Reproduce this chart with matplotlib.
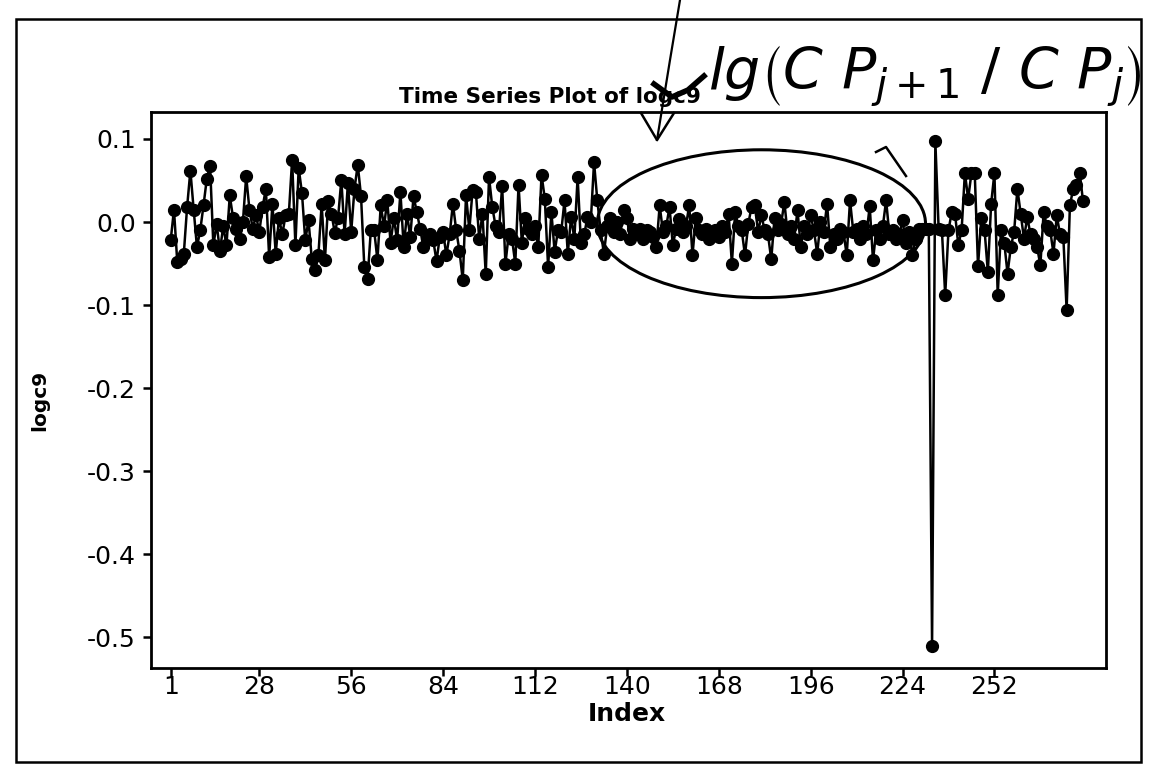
import numpy as np
import matplotlib
matplotlib.use("Agg")
import matplotlib.pyplot as plt
from matplotlib.patches import Ellipse, Rectangle
from matplotlib.lines import Line2D

plt.rcParams['axes.unicode_minus'] = False
plt.rcParams['font.family'] = ['DejaVu Sans']
plt.rcParams['mathtext.fontset'] = 'dejavusans'

# logc9 values, in index order (1..279)
seg_1_45 = [-0.022, 0.015, -0.048, -0.045, -0.038, 0.018, 0.062, 0.015, -0.030, -0.010,
            0.020, 0.052, 0.068, -0.028, -0.002, -0.035, -0.005, -0.028, 0.032, 0.005,
            -0.008, -0.020, 0.000, 0.055, 0.015, -0.008, 0.008, -0.012, 0.018, 0.040,
            -0.042, 0.022, -0.038, 0.005, -0.015, 0.008, 0.010, 0.075, -0.028, 0.065,
            0.035, -0.022, 0.002, -0.045, -0.058]
seg_46_93 = [-0.040, 0.022, -0.046, 0.025, 0.010, -0.013, 0.005, 0.051, -0.015, 0.047,
             -0.012, 0.040, 0.069, 0.031, -0.054, -0.068, -0.009, -0.010, -0.046, 0.020,
             -0.005, 0.026, -0.025, 0.005, -0.022, 0.036, -0.030, 0.010, -0.018, 0.031,
             0.012, -0.008, -0.030, -0.020, -0.015, -0.022, -0.047, -0.018, -0.012, -0.040,
             -0.015, 0.022, -0.010, -0.035, -0.070, 0.033, -0.010, 0.039]
seg_94_142 = [0.036, -0.020, 0.010, -0.063, 0.054, 0.018, -0.005, -0.012, 0.043, -0.050,
              -0.015, -0.020, -0.050, 0.045, -0.025, 0.005, -0.008, -0.015, -0.005, -0.030,
              0.057, 0.028, -0.054, 0.012, -0.036, -0.010, -0.012, 0.026, -0.038, 0.006,
              -0.020, 0.054, -0.025, -0.015, 0.006, 0.000, 0.072, 0.026, -0.010, -0.038,
              -0.005, 0.005, -0.012, 0.000, -0.015, 0.015, 0.005, -0.020, -0.008]
seg_143_191 = [-0.015, -0.008, -0.020, -0.010, -0.012, -0.018, -0.030, 0.020, -0.012, -0.005,
               0.018, -0.028, -0.008, 0.004, -0.012, -0.005, 0.020, -0.040, 0.005, -0.010,
               -0.015, -0.008, -0.020, -0.015, -0.010, -0.018, -0.005, -0.012, 0.010, -0.050,
               0.012, -0.005, -0.010, -0.040, -0.002, 0.018, 0.020, -0.012, 0.008, -0.010,
               -0.015, -0.045, 0.005, -0.010, -0.002, 0.024, -0.015, -0.005, -0.020]
seg_192_279 = [0.014, -0.030, -0.005, -0.015, 0.008, -0.010, -0.038, 0.000, -0.012, 0.022,
               -0.030, -0.015, -0.020, -0.008, -0.012, -0.040, 0.026, -0.012, -0.008, -0.020,
               -0.005, -0.015, 0.019, -0.046, -0.010, -0.020, -0.005, 0.026, -0.015, -0.010,
               -0.020, -0.015, 0.002, -0.025, -0.012, -0.040, -0.020, -0.008, -0.008, -0.008,
               -0.008, -0.510, 0.097, -0.008, -0.010, -0.088, -0.010, 0.012, 0.010, -0.028,
               -0.010, 0.059, 0.028, 0.059, 0.059, -0.053, 0.005, -0.010, -0.060, 0.022,
               0.059, -0.088, -0.010, -0.025, -0.062, -0.030, -0.012, 0.040, 0.010, -0.020,
               0.006, -0.015, -0.020, -0.030, -0.052, 0.012, -0.005, -0.010, -0.038, 0.008,
               -0.015, -0.018, -0.106, 0.020, 0.040, 0.045, 0.059, 0.025]

logc9 = np.array(seg_1_45 + seg_46_93 + seg_94_142 + seg_143_191 + seg_192_279)
index = np.arange(1, len(logc9) + 1)

x_ticks = [1, 28, 56, 84, 112, 140, 168, 196, 224, 252]
y_ticks = [0.1, 0.0, -0.1, -0.2, -0.3, -0.4, -0.5]

W, H = 1157, 776
fig = plt.figure(figsize=(W / 100, H / 100), dpi=100)
ax = fig.add_axes([151 / W, 1 - 668 / H, (1106 - 151) / W, (668 - 112) / H])

ax.plot(index, logc9, color='black', lw=1.8, marker='o', ms=8.5,
        mfc='black', mec='black', zorder=3)

ax.set_xlim(-5, 286)
ax.set_ylim(-0.537, 0.1325)
ax.set_xticks(x_ticks)
ax.set_xticklabels([str(t) for t in x_ticks])
ax.set_yticks(y_ticks)
ax.set_yticklabels([f"{t:.1f}" for t in y_ticks])
ax.tick_params(direction='out', length=6, width=1.8, labelsize=18, colors='black')
ax.tick_params(axis='x', pad=-1)
ax.tick_params(axis='y', pad=5)
for s in ax.spines.values():
    s.set_linewidth(2)

ax.set_xlabel('Index', fontsize=18, fontweight='bold', va='center')
ax.xaxis.set_label_coords(0.498, -0.083)
ax.set_ylabel('logc9', fontsize=14.5, fontweight='bold', va='center')
ax.yaxis.set_label_coords(-0.116, 0.482)

fig.text(550 / W, 1 - 97 / H, 'Time Series Plot of logc9', ha='center', va='center',
         fontsize=15.5, fontweight='bold')

# outer graph frame
fig.patches.append(Rectangle((16 / W, 1 - 762 / H), (1141 - 16) / W, (762 - 19) / H,
                             transform=fig.transFigure, fill=False, lw=1.8, ec='black'))

# hand-drawn notes
ax.add_patch(Ellipse((181, -0.002), 100, 0.178, fill=False, lw=2.2, ec='black', zorder=4))
fig.add_artist(Line2D([876 / W, 886 / W, 906 / W], [1 - 152 / H, 1 - 147 / H, 1 - 176 / H],
                      color='black', lw=1.8))
fig.add_artist(Line2D([680 / W, 670 / W, 657 / W], [1.0, 1 - 60 / H, 1 - 140 / H],
                      color='black', lw=1.6))
fig.add_artist(Line2D([641 / W, 657 / W, 674 / W], [1 - 113 / H, 1 - 140 / H, 1 - 113 / H],
                      color='black', lw=1.8))
fig.add_artist(Line2D([654 / W, 672 / W, 688 / W, 704 / W],
                      [1 - 84 / H, 1 - 97 / H, 1 - 90 / H, 1 - 76 / H], color='black', lw=4))
fig.text(708 / W, 1 - 76 / H, r'$lg\left(C\ P_{j+1}\ /\ C\ P_{j}\right)$', ha='left',
         va='center', fontsize=41, color='black')

fig.savefig('out.png', dpi=100)
